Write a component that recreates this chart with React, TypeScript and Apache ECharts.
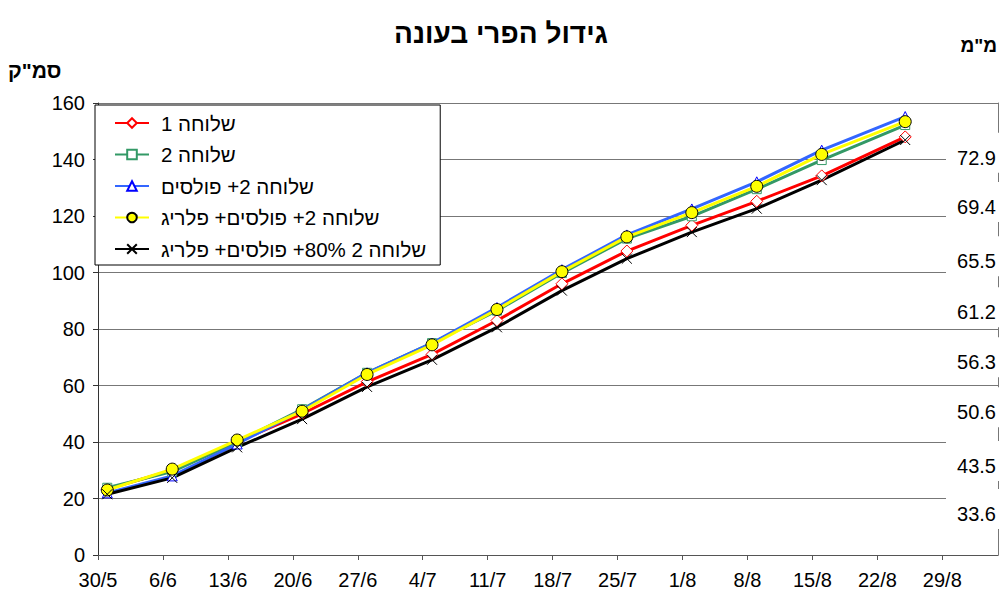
import React, { useEffect, useRef } from "react";
import * as echarts from "echarts";

const titleText = "גידול הפרי בעונה";
const leftUnit = 'סמ"ק';
const rightUnit = 'מ"מ';

const startDate = "30/5";
const tickLabels = ["30/5", "6/6", "13/6", "20/6", "27/6", "4/7", "11/7", "18/7", "25/7", "1/8", "8/8", "15/8", "22/8", "29/8"];
const sampleDates = ["31/5", "7/6", "14/6", "21/6", "28/6", "5/7", "12/7", "19/7", "26/7", "2/8", "9/8", "16/8", "25/8"];

const seriesNames = [
  "שלוחה 1",
  "שלוחה 2",
  "שלוחה 2+ פולסים",
  "שלוחה 2+ פולסים+ פלריג",
  "שלוחה 2 80%+ פולסים+ פלריג",
];

const shluha1 = [23.3, 30.0, 40.0, 50.0, 61.3, 71.0, 83.0, 96.0, 107.6, 116.7, 125.2, 134.2, 148.0];
const shluha2 = [23.8, 29.5, 40.0, 51.6, 64.5, 75.0, 86.5, 99.8, 112.0, 119.9, 129.5, 139.8, 152.2];
const shluha2Pulses = [22.0, 28.0, 39.3, 51.3, 64.5, 75.0, 87.6, 101.0, 113.3, 122.5, 132.1, 143.3, 155.2];
const shluha2PulsesPlarig = [23.0, 30.4, 40.7, 50.9, 63.9, 74.4, 86.9, 100.3, 112.6, 121.2, 130.5, 141.8, 153.4];
const shluha2At80 = [21.5, 27.3, 38.1, 48.1, 59.5, 69.1, 80.6, 93.6, 104.9, 114.3, 122.6, 132.7, 146.9];

const mmLabels = ["72.9", "69.4", "65.5", "61.2", "56.3", "50.6", "43.5", "33.6"];
const mmLabelLevels = [140.6, 123.2, 104.0, 85.9, 68.2, 50.5, 31.5, 14.5];

const FONT = 'Arial, "Liberation Sans", sans-serif';

function dayOffset(s: string): number {
  const [d, m] = s.split("/").map(Number);
  const [d0, m0] = startDate.split("/").map(Number);
  return Math.round((Date.UTC(2008, m - 1, d) - Date.UTC(2008, m0 - 1, d0)) / 86400000);
}

export default function App() {
  const ref = useRef<HTMLDivElement>(null);

  useEffect(() => {
    if (!ref.current) return;
    const chart = echarts.init(ref.current, undefined, { renderer: "svg" });
    const xs = sampleDates.map(dayOffset);
    const tickValues = tickLabels.map(dayOffset);
    const pair = (arr: number[]) => arr.map((v, i) => [xs[i], v]);

    const base = {
      type: "line" as const,
      lineStyle: { width: 3 },
    };

    chart.setOption({
      animation: false,
      backgroundColor: "#fff",
      title: {
        text: titleText,
        left: "center",
        top: 14,
        textStyle: { fontFamily: FONT, fontSize: 28, fontWeight: "bold", color: "#000" },
      },
      grid: { left: 98, right: 4, top: 103, bottom: 47, containLabel: false },
      legend: {
        orient: "vertical",
        left: 95,
        top: 105,
        itemWidth: 34,
        itemHeight: 12,
        itemGap: 9.5,
        padding: [7, 14, 5, 19],
        backgroundColor: "#fff",
        borderColor: "#000",
        borderWidth: 1,
        textStyle: { fontFamily: FONT, fontSize: 20.5, color: "#000", lineHeight: 22, padding: [0, 0, 0, 7] },
        data: seriesNames,
      },
      xAxis: {
        type: "value",
        min: 0,
        max: 97,
        interval: 7,
        axisLine: { show: true, lineStyle: { color: "#555", width: 1 } },
        axisTick: { show: true, length: 5, lineStyle: { color: "#555" }, customValues: tickValues },
        axisLabel: {
          customValues: tickValues,
          margin: 15,
          fontFamily: FONT,
          fontSize: 20,
          color: "#000",
          formatter: (v: number) => {
            const i = tickValues.indexOf(Math.round(v));
            return i >= 0 ? tickLabels[i] : "";
          },
        },
        splitLine: { show: false },
      },
      yAxis: [
        {
          type: "value",
          min: 0,
          max: 160,
          interval: 20,
          axisLine: { show: true, lineStyle: { color: "#333", width: 1 } },
          axisTick: { show: true, length: 5, lineStyle: { color: "#333" } },
          axisLabel: { margin: 13, fontFamily: FONT, fontSize: 20, color: "#000" },
          splitLine: { show: true, lineStyle: { color: "#777", width: 1 } },
        },
        {
          type: "value",
          min: 0,
          max: 160,
          interval: 20,
          position: "right",
          axisLine: { show: true, lineStyle: { color: "#777", width: 1 } },
          axisTick: { show: false },
          axisLabel: { show: false },
          splitLine: { show: false },
        },
      ],
      series: [
        {
          ...base,
          name: seriesNames[0],
          data: pair(shluha1),
          color: "#FF0000",
          lineStyle: { width: 3, color: "#FF0000" },
          symbol: "diamond",
          symbolSize: 12,
          itemStyle: { color: "#fff", borderColor: "#FF0000", borderWidth: 1 },
        },
        {
          ...base,
          name: seriesNames[1],
          data: pair(shluha2),
          color: "#339966",
          lineStyle: { width: 3, color: "#339966" },
          symbol: "rect",
          symbolSize: 9,
          itemStyle: { color: "#fff", borderColor: "#339966", borderWidth: 1 },
        },
        {
          ...base,
          name: seriesNames[2],
          data: pair(shluha2Pulses),
          color: "#3366FF",
          lineStyle: { width: 3, color: "#3366FF" },
          symbol: "triangle",
          symbolSize: 10,
          itemStyle: { color: "#fff", borderColor: "#0000FF", borderWidth: 1 },
        },
        {
          ...base,
          name: seriesNames[3],
          data: pair(shluha2PulsesPlarig),
          color: "#FFFF00",
          lineStyle: { width: 3, color: "#FFFF00" },
          symbol: "circle",
          symbolSize: 12,
          itemStyle: { color: "#FFFF00", borderColor: "#000", borderWidth: 1 },
        },
        {
          ...base,
          name: seriesNames[4],
          data: pair(shluha2At80),
          color: "#000",
          lineStyle: { width: 3, color: "#000" },
          symbol: "path://M0 0L10 10M10 0L0 10",
          symbolSize: 10,
          itemStyle: { color: "none", borderColor: "#000", borderWidth: 1 },
        },
      ],
    });

    const graphics: any[] = [
      {
        type: "text",
        left: 8,
        top: 60,
        z: 100,
        style: { text: leftUnit, fontFamily: FONT, fontSize: 21, fontWeight: "bold", fill: "#000" },
      },
      {
        type: "text",
        right: 5,
        top: 36,
        z: 100,
        style: { text: rightUnit, fontFamily: FONT, fontSize: 19, fontWeight: "bold", fill: "#000" },
      },
    ];
    mmLabelLevels.forEach((lvl, i) => {
      const y = chart.convertToPixel({ yAxisIndex: 0 }, lvl) as number;
      graphics.push({
        type: "rect",
        z: 90,
        shape: { x: 946, y: y - 25, width: 60, height: 40 },
        style: { fill: "#fff" },
      });
      graphics.push({
        type: "text",
        z: 100,
        x: 996,
        y: y,
        style: {
          text: mmLabels[i],
          fontFamily: FONT,
          fontSize: 20,
          fill: "#000",
          align: "right",
          verticalAlign: "middle",
        },
      });
    });
    chart.setOption({ graphic: graphics });

    return () => chart.dispose();
  }, []);

  return (
    <div
      ref={ref}
      style={{ position: "absolute", left: 0, top: 0, width: 1002, height: 602 }}
    />
  );
}
